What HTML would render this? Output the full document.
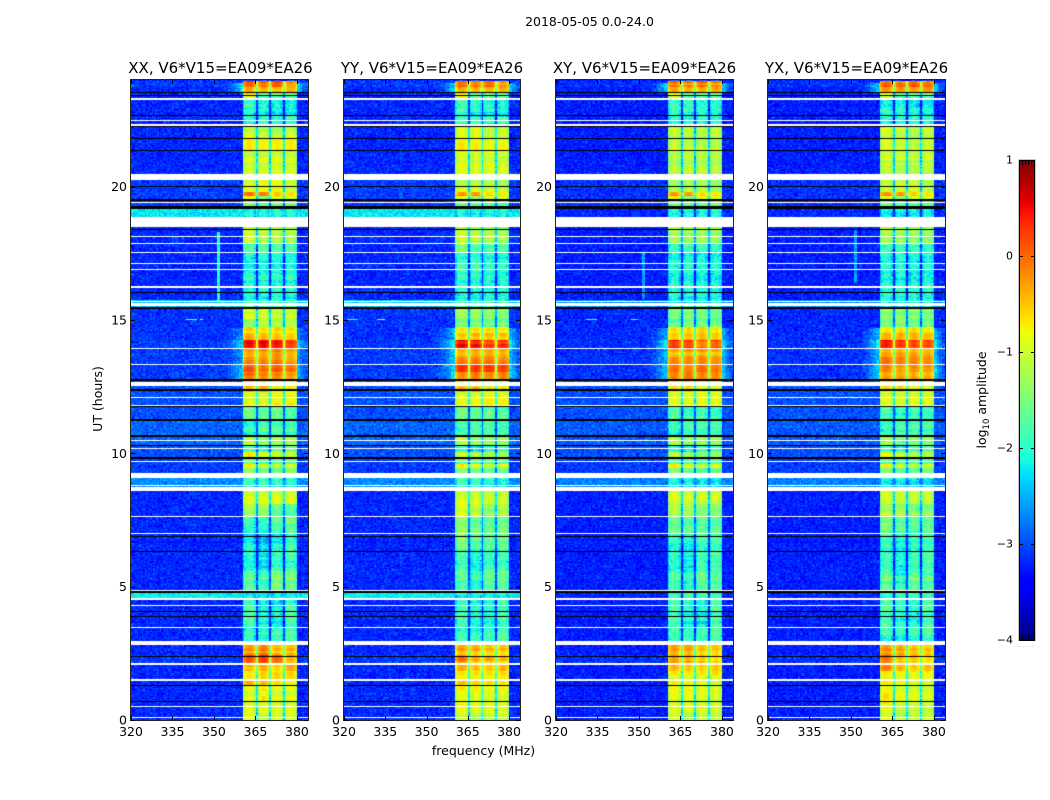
<!DOCTYPE html>
<html lang="en">
<head>
<meta charset="utf-8">
<title>2018-05-05 0.0-24.0 dynamic spectra</title>
<style>
html,body{margin:0;padding:0;background:#fff;width:1050px;height:800px;overflow:hidden}
#figure{position:relative;width:1050px;height:800px;background:#fff;font-family:"DejaVu Sans","Liberation Sans",sans-serif}
canvas{position:absolute;display:block}
svg{position:absolute;left:0;top:0}
text{font-family:"DejaVu Sans","Liberation Sans",sans-serif;fill:#000}
</style>
</head>
<body>
<div id="figure">
<canvas id="cv0" width="177" height="640" style="left:131px;top:80px"></canvas>
<canvas id="cv1" width="176" height="640" style="left:344px;top:80px"></canvas>
<canvas id="cv2" width="177" height="640" style="left:556px;top:80px"></canvas>
<canvas id="cv3" width="177" height="640" style="left:768px;top:80px"></canvas>
<canvas id="cbar" width="15" height="480" style="left:1019px;top:160px"></canvas>
<svg id="overlay" width="1050" height="800" viewBox="0 0 1050 800">
<text x="589.5" y="26" font-size="12.5" text-anchor="middle">2018-05-05 0.0-24.0</text>
<text x="483.5" y="755" font-size="12.5" text-anchor="middle">frequency (MHz)</text>
<text transform="translate(102,399) rotate(-90)" font-size="12.5" text-anchor="middle">UT (hours)</text>
<text transform="translate(986,400) rotate(-90)" font-size="12.5" text-anchor="middle">log<tspan font-size="8.5" dy="3">10</tspan><tspan dy="-3"> amplitude</tspan></text>
<text x="1026" y="647" font-size="5" style="fill:#777" letter-spacing="1.2" text-anchor="middle">......</text>
</svg>
</div>
<script>
// Time bands (UT hours); each panel's table holds one row per band:
// [background, sub-band 1, sub-band 2, sub-band 3, sub-band 4] in log10 amplitude.
const timeEdges = [0,.3,.7,1.3,1.55,1.85,2.1,2.45,2.8,3.5,4.5,4.8,5.6,6.4,7,7.6,8.1,8.6,9.25,9.45,9.6,9.85,10.05,10.3,10.65,11.25,11.75,12.3,12.75,13.05,13.35,13.6,13.95,14.25,14.5,14.75,15.05,15.45,15.75,16.6,17.5,17.9,18.5,19.2,19.45,19.65,19.8,20.46,21.3,21.75,22.25,22.7,23.3,23.55,23.75,23.93,24];

const levelsXX = [
[-3.2,-1,-1.2,-1.1,-1.1],[-3.2,-1,-.95,-1.05,-1.05],[-3.2,-1,-.85,-1,-1],[-3.2,-.5,-.55,-.75,-.9],[-3.2,-.85,-.7,-.75,-.75],
[-3.2,-.45,-.35,-.6,-.35],[-3.1,.05,.2,-.05,-.45],[-3.2,-.3,-.15,-.5,-.5],[-3.2,-2.05,-2.05,-1.95,-1.85],[-3.2,-1.8,-2.1,-2.2,-1.85],
[-2.2,-2.2,-2.2,-2.2,-2.2],[-3.2,-1.8,-2,-1.6,-1.7],[-3.2,-2.1,-2.3,-2,-1.9],[-3.2,-2.2,-2.4,-2.2,-2],[-3.2,-2,-2,-1.8,-1.7],
[-3.2,-1.3,-1.35,-1.7,-1.8],[-3.2,-.95,-.95,-.95,-.95],[-2.7,-2,-2,-2.1,-2.2],[-3.1,-1.4,-1.6,-1.7,-1.5],[-3.1,-.8,-1,-1.2,-1],
[-3.1,-1.7,-1.8,-1.8,-1.8],[-3,-.9,-1.1,-1.2,-1.2],[-3,-1.9,-2.1,-1.8,-1.7],[-2.9,-1.2,-1.5,-1.4,-1.4],[-2.9,-2,-1.8,-1.85,-1.85],
[-3,-1.7,-1.8,-1.7,-1.9],[-3,-.9,-.95,-.8,-.8],[-3,-.5,-.4,-.8,-.8],[-3.1,-.1,-.2,-.2,-.35],[-3.1,.1,-.05,.05,-.1],
[-3.1,-.15,-.15,-.1,-.3],[-3.1,-.35,-.3,-.2,-.4],[-3.1,.4,.45,.35,.1],[-3.15,-.3,-.35,-.45,-.5],[-3.15,-.6,-.65,-.6,-.7],
[-3.15,-1.45,-1.15,-1.25,-1.2],[-3.15,-1,-1.05,-1.15,-1.1],[-2.4,-2,-2,-2,-2],[-3.2,-2.1,-2.1,-2.1,-2.1],[-3.2,-2.1,-2,-2.1,-2.1],
[-3.2,-1.9,-1.8,-1.9,-1.9],[-3.2,-1.05,-1.2,-1.2,-1.25],[-2.25,-2.2,-2.2,-2.15,-2.2],[-3.1,-1.6,-1.7,-1.7,-1.7],[-3.1,-.8,-1.6,-.8,-.9],
[-3.1,-.1,-.1,-.6,-.7],[-3.1,-1.1,-1,-1,-1.2],[-3.2,-1.1,-1.05,-1.05,-1.1],[-3.2,-.8,-.85,-.85,-.85],[-3.2,-1.05,-1.15,-1.25,-1.15],
[-3.2,-2.1,-2,-2.1,-2],[-3.2,-2,-2.1,-2.2,-2.2],[-3.2,-.85,-1.8,-1.8,-1.8],[-3.2,-.3,-.35,-.4,-.35],[-3.1,.05,-.05,.1,-.3],[-3.2,-3.1,-3.1,-3.1,-3.1]];

const levelsYY = [
[-3.2,-1.05,-1.2,-1.1,-1.1],[-3.2,-.95,-1,-1.05,-1.1],[-3.2,-.9,-.95,-1,-1],[-3.2,-.65,-.75,-.85,-.9],[-3.2,-.85,-.85,-.85,-.8],
[-3.2,-.5,-.6,-.65,-.55],[-3.1,-.2,-.5,-.5,-.6],[-3.2,-.45,-.5,-.6,-.6],[-3.2,-2,-2.05,-2,-1.9],[-3.2,-1.9,-2.1,-2.1,-1.9],
[-2.2,-2.2,-2.2,-2.2,-2.2],[-3.2,-1.75,-1.95,-1.7,-1.7],[-3.2,-1.85,-2.1,-1.95,-1.85],[-3.2,-1.6,-1.85,-1.8,-1.7],[-3.2,-1.4,-1.6,-1.7,-1.6],
[-3.2,-1,-1.2,-1.5,-1.3],[-3.2,-.95,-.95,-1,-1],[-2.7,-2,-2,-2.1,-2.2],[-3.1,-1.4,-1.6,-1.7,-1.6],[-3.1,-.85,-1,-1.2,-1],
[-3.1,-1.7,-1.8,-1.8,-1.8],[-3,-.95,-1.1,-1.2,-1.2],[-3,-1.9,-2.1,-1.9,-1.8],[-2.9,-1.25,-1.5,-1.5,-1.5],[-2.9,-1.9,-1.8,-1.85,-1.9],
[-3,-1.7,-1.8,-1.8,-1.9],[-3,-.95,-.95,-.85,-.9],[-3,-.55,-.5,-.85,-.85],[-3.1,-.3,-.2,-.3,-.25],[-3.1,.15,.1,.1,.05],
[-3.1,-.1,-.05,-.1,-.15],[-3.1,-.45,-.35,-.35,-.4],[-3.1,.45,.4,.15,.25],[-3.15,-.6,-.5,-.55,-.55],[-3.15,-.75,-.7,-.7,-.8],
[-3.15,-1.6,-1.55,-1.65,-1.65],[-3.15,-1.25,-1.25,-1.35,-1.45],[-2.4,-2,-2,-2,-2],[-3.2,-2.05,-2.1,-2.1,-2.1],[-3.2,-2,-2,-2.1,-2.1],
[-3.2,-1.5,-1.8,-1.8,-1.8],[-3.2,-1.05,-1.2,-1.25,-1.3],[-2.25,-2.2,-2.2,-2.15,-2.2],[-3.1,-1.6,-1.7,-1.7,-1.7],[-3.1,-.9,-1.4,-1,-1],
[-3.1,-.3,-.3,-.7,-.8],[-3.1,-1.1,-1.05,-1.1,-1.2],[-3.2,-1,-1.05,-1.05,-1.1],[-3.2,-.85,-.9,-1.05,-.95],[-3.2,-1.05,-1,-1.25,-1.15],
[-3.2,-2,-2,-2.1,-2],[-3.2,-1.95,-2.1,-2.15,-2.2],[-3.2,-.85,-1.8,-1.8,-1.8],[-3.2,-.35,-.35,-.4,-.35],[-3.1,-.05,-.15,-.05,-.3],[-3.2,-3.1,-3.1,-3.1,-3.1]];

const levelsXY = [
[-3.25,-1,-1.2,-1.1,-1.1],[-3.25,-1,-1,-1.05,-1.1],[-3.25,-.95,-.95,-1,-1.05],[-3.25,-.65,-.7,-.8,-.95],[-3.25,-.9,-.9,-.9,-.85],
[-3.25,-.6,-.65,-.75,-.7],[-3.15,-.35,-.4,-.6,-.7],[-3.25,-.5,-.5,-.7,-.7],[-3.25,-2,-2.05,-2,-1.9],[-3.25,-1.9,-2.1,-2.2,-1.9],
[-3.2,-2.05,-2.05,-2.05,-2.05],[-3.25,-1.8,-2,-1.7,-1.75],[-3.25,-2.05,-2.25,-1.95,-1.9],[-3.25,-2,-2.1,-1.9,-1.9],[-3.25,-1.6,-1.65,-1.7,-1.7],
[-3.25,-1.2,-1.3,-1.5,-1.5],[-3.25,-1.1,-1.1,-1.15,-1.15],[-2.75,-2.1,-2.1,-2.2,-2.25],[-3.1,-1.5,-1.65,-1.7,-1.6],[-3.1,-.85,-1.1,-1.2,-1.1],
[-3.1,-1.75,-1.8,-1.8,-1.8],[-3,-1,-1.2,-1.3,-1.25],[-3,-1.9,-2.1,-1.9,-1.8],[-2.95,-1.3,-1.55,-1.5,-1.45],[-2.95,-2,-1.9,-1.9,-1.9],
[-3,-1.7,-1.9,-1.8,-1.9],[-3,-1.05,-1.05,-1,-1.05],[-3,-.7,-.6,-.95,-1],[-3.15,-.35,-.25,-.35,-.4],[-3.15,-.15,-.25,-.1,-.2],
[-3.15,-.3,-.25,-.3,-.35],[-3.15,-.5,-.4,-.4,-.5],[-3.15,.25,.2,-.1,.05],[-3.2,-.65,-.55,-.55,-.65],[-3.2,-.8,-.75,-.7,-.85],
[-3.2,-1.75,-1.65,-1.7,-1.7],[-3.2,-1.5,-1.45,-1.5,-1.55],[-2.7,-2.1,-2.1,-2.1,-2.1],[-3.25,-2.1,-2.15,-2.15,-2.15],[-3.25,-2.1,-2.05,-2.15,-2.15],
[-3.25,-1.95,-1.9,-1.95,-2],[-3.25,-1.3,-1.35,-1.35,-1.4],[-3.2,-2.1,-2.1,-2.1,-2.1],[-3.15,-1.6,-1.7,-1.7,-1.7],[-3.15,-.9,-1.5,-1,-1],
[-3.15,-.35,-.35,-.7,-.8],[-3.15,-1.2,-1.15,-1.15,-1.3],[-3.25,-1.25,-1.2,-1.25,-1.25],[-3.25,-1,-1.05,-1.1,-1.1],[-3.25,-1.2,-1.25,-1.35,-1.25],
[-3.25,-2.1,-2.05,-2.1,-2.05],[-3.25,-2.05,-2.1,-2.2,-2.2],[-3.25,-1,-1.8,-1.8,-1.8],[-3.25,-.45,-.45,-.5,-.45],[-3.15,-.15,-.2,-.1,-.3],[-3.25,-3.1,-3.1,-3.1,-3.1]];

const levelsYX = [
[-3.25,-1,-1.2,-1.15,-1.1],[-3.25,-.85,-1,-1.05,-1.1],[-3.25,-.8,-.95,-1,-1.05],[-3.25,-.6,-.75,-.85,-.9],[-3.25,-.75,-.85,-.9,-.85],
[-3.25,-.3,-.55,-.7,-.65],[-3.15,-.1,-.5,-.55,-.7],[-3.25,-.35,-.45,-.6,-.65],[-3.25,-2,-2.05,-2,-1.9],[-3.25,-1.9,-2.1,-2.2,-1.95],
[-3.2,-2.05,-2.05,-2.05,-2.05],[-3.25,-1.75,-2,-1.75,-1.8],[-3.25,-2,-2.25,-2,-1.95],[-3.25,-1.9,-2.1,-1.95,-1.9],[-3.25,-1.55,-1.7,-1.75,-1.7],
[-3.25,-1.2,-1.3,-1.5,-1.5],[-3.25,-1.05,-1.1,-1.15,-1.15],[-2.75,-2.1,-2.1,-2.2,-2.25],[-3.1,-1.5,-1.65,-1.7,-1.6],[-3.1,-.85,-1.1,-1.2,-1.1],
[-3.1,-1.75,-1.8,-1.8,-1.8],[-3,-1,-1.2,-1.3,-1.25],[-3,-1.9,-2.1,-1.9,-1.8],[-2.95,-1.3,-1.55,-1.5,-1.45],[-2.95,-2,-1.9,-1.9,-1.9],
[-3,-1.7,-1.9,-1.8,-1.9],[-3,-1,-1.05,-1,-1.05],[-3,-.7,-.65,-.95,-1],[-3.15,-.3,-.3,-.35,-.4],[-3.15,-.05,-.2,-.15,-.2],
[-3.15,-.2,-.25,-.3,-.35],[-3.15,-.45,-.4,-.45,-.5],[-3.15,.35,.2,.1,.05],[-3.2,-.6,-.55,-.6,-.65],[-3.2,-.8,-.75,-.75,-.85],
[-3.2,-1.7,-1.65,-1.7,-1.7],[-3.2,-1.45,-1.45,-1.5,-1.55],[-2.7,-2.1,-2.1,-2.1,-2.1],[-3.25,-2.1,-2.15,-2.15,-2.15],[-3.25,-2.1,-2.05,-2.15,-2.15],
[-3.25,-1.95,-1.9,-1.95,-2],[-3.25,-1.2,-1.25,-1.3,-1.35],[-3.2,-2.1,-2.1,-2.1,-2.1],[-3.15,-1.6,-1.7,-1.7,-1.7],[-3.15,-.9,-1.5,-1,-1],
[-3.15,-.25,-.3,-.6,-.75],[-3.15,-1.2,-1.15,-1.15,-1.3],[-3.25,-1.1,-1.15,-1.2,-1.15],[-3.25,-.85,-.95,-1.05,-1],[-3.25,-1.1,-1.15,-1.3,-1.2],
[-3.25,-2.1,-2.05,-2.1,-2.05],[-3.25,-2.05,-2.1,-2.2,-2.2],[-3.25,-1,-1.8,-1.8,-1.8],[-3.25,-.4,-.4,-.45,-.4],[-3.15,-.1,-.15,-.05,-.2],[-3.25,-3.1,-3.1,-3.1,-3.1]];

// Sub-band boundaries in MHz: start/end pairs of the four passbands.
const subbandEdges = [[360.5,365.1],[365.8,370],[370.6,375],[375.6,380]];
const passbandShape = [-.3,-.05,.05,.1,.12,.1,.05,-.05,-.25];

// Emission beside the passbands: [start hour, end hour, peak log10 amplitude]
const shouldersXX = [[12.8,13.3,-2.35],[13.35,13.9,-2.6],[13.95,14.25,-2.2],[14.25,14.7,-2.7],[23.55,23.9,-2.2]];
const shouldersYY = [[12.8,13.3,-2.2],[13.35,13.9,-2.3],[13.95,14.25,-1.95],[14.25,14.7,-2.35],[23.55,23.9,-2.2]];
const shouldersXY = [[12.8,13.3,-2.3],[13.35,13.9,-2.35],[13.95,14.25,-2.05],[14.25,14.7,-2.45],[23.55,23.9,-2.3]];
const shouldersYX = [[12.8,13.3,-2.2],[13.35,13.9,-2.3],[13.95,14.25,-1.95],[14.25,14.7,-2.35],[23.55,23.9,-2.2]];
const shoulderTaperLow = [.02,.05,.1,.2,.3,.45,.6,.8,1];
const shoulderTaperHigh = [.85,.55,.35,.2];

// Narrow interference: vertical [MHz, start hour, end hour, level]; horizontal [start MHz, end MHz, hour, level]
const rfiVerticalXX = [[351,15.7,18.3,-2]];
const rfiVerticalYY = [];
const rfiVerticalXY = [[351,15.8,17.5,-2.6]];
const rfiVerticalYX = [[351,16.4,18.4,-2.6]];
const rfiHorizontalXX = [[325,354,13.92,-2.5],[340,344,15.02,-1.6],[345,346,15.02,-1.6]];
const rfiHorizontalYY = [[321,325,15.02,-1.8],[332,335,15.02,-1.5]];
const rfiHorizontalXY = [[331,335,15.02,-1.8],[347,350,15.02,-2]];
const rfiHorizontalYX = [];

// Flagged integrations (UT hours): blank rows and black rows.
const whiteGaps = [[.075,.13],[.47,.53],[1.48,1.52],[2.08,2.12],[2.8,2.95],[3.45,3.5],[4.29,4.33],[4.5,4.57],[4.83,4.87],[6.99,7.03],[7.6,7.65],[8.58,8.72],[8.77,8.82],[9.06,9.27],[9.66,9.7],[10.16,10.2],[10.45,10.49],[11.77,11.83],[12.07,12.11],[12.53,12.62],[12.64,12.68],[13.3,13.36],[13.92,13.96],[15.52,15.63],[15.68,15.72],[16.2,16.26],[16.86,16.9],[17.1,17.14],[17.52,17.56],[17.84,17.88],[18.1,18.14],[18.5,18.87],[19.37,19.42],[20.25,20.46],[22.27,22.35],[22.45,22.5],[23.25,23.33]];
const blackLines = [[.67,.71],[1.27,1.31],[2.36,2.4],[3.86,3.9],[4.06,4.1],[4.78,4.84],[6.31,6.35],[6.85,6.89],[9.77,9.86],[10.28,10.32],[10.62,10.7],[11.22,11.3],[11.74,11.78],[12.34,12.42],[12.71,12.77],[15.42,15.5],[16,16.04],[18.39,18.43],[19.18,19.26],[19.48,19.52],[19.99,20.03],[21.32,21.36],[21.77,21.81],[22.22,22.26],[22.65,22.69],[23.41,23.45],[23.51,23.55]];

// Fine-grain receiver noise read as a repeating texture, in units of the local noise amplitude.
const noiseTexture = [.31,-.72,.14,.88,-.43,-.05,.62,-.91,.27,.49,-.18,-.64,.95,.07,-.36,.53,-.82,.21,-.11,.76,-.55,.39,-.97,.12,.68,-.29,.84,-.47,.03,-.73,.58,.18,-.34,.92,-.6,.25,-.09,.71,-.86,.44,.01,-.52,.8,-.23,.36,-.78,.64,.1,-.41,.97,-.15,-.68,.29,.51,-.89,.16,.74,-.32,-.02,.6,-.75,.41,.86,-.26,-.57,.22,.69,-.94,.33,-.12,.47,-.66,.78,.05,-.38,.9,-.5,.19,-.83,.55,-.07,.35,-.7,.99,-.2,.43,-.61,.13,.66,-.99,.24,.82,-.45,-.16,.57,-.77,.38,.08,-.3,.73,-.54];

// Axis ticks
const xTickValues = [320,335,350,365,380];
const yTickValues = [0,5,10,15,20];
const colorbarTicks = [1,0,-1,-2,-3,-4];
const colorbarTickLabels = ['1','0','\u22121','\u22122','\u22123','\u22124'];
const colorbarEdgeTicks = [1,2,3,4];

const panelTitles = ['XX, V6*V15=EA09*EA26','YY, V6*V15=EA09*EA26','XY, V6*V15=EA09*EA26','YX, V6*V15=EA09*EA26'];
const panelKeys = ['xx','yy','xy','yx'];
const panelLeft = [131,344,556,768];
const panelWidth = [177,176,177,177];
const panelLevels = [levelsXX,levelsYY,levelsXY,levelsYX];
const panelShoulders = [shouldersXX,shouldersYY,shouldersXY,shouldersYX];
const panelRfiV = [rfiVerticalXX,rfiVerticalYY,rfiVerticalXY,rfiVerticalYX];
const panelRfiH = [rfiHorizontalXX,rfiHorizontalYY,rfiHorizontalXY,rfiHorizontalYX];

const F_MIN = 320, F_MAX = 384, H_MAX = 24, PLOT_TOP = 80, PLOT_H = 640, CHANNEL = .5, INTEGRATION = .05;
const SVGNS = 'http://www.w3.org/2000/svg';
const overlay = document.getElementById('overlay');

function segInterp(points, t){
  for(let i=1;i<points.length;i++){
    if(t<=points[i][0]){
      const a=points[i-1],b=points[i];
      return a[1]+(b[1]-a[1])*(t-a[0])/(b[0]-a[0]);
    }
  }
  return points[points.length-1][1];
}
const jetR=[[0,0],[.35,0],[.66,1],[.89,1],[1,.5]];
const jetG=[[0,0],[.125,0],[.375,1],[.64,1],[.91,0],[1,0]];
const jetB=[[0,.5],[.11,1],[.34,1],[.65,0],[1,0]];
function colorFor(logAmp){
  const t=Math.max(0,Math.min(1,(logAmp+4)/5));
  return 'rgb('+Math.round(255*segInterp(jetR,t))+','+Math.round(255*segInterp(jetG,t))+','+Math.round(255*segInterp(jetB,t))+')';
}
function xScale(f,p){ return (f-F_MIN)*panelWidth[p]/(F_MAX-F_MIN); }
function yScale(h){ return PLOT_H-h*PLOT_H/H_MAX; }

function buildCells(){
  const cells=[];
  const low=subbandEdges[0][0];
  for(let f=F_MIN;f<low;f+=CHANNEL) cells.push({a:f,b:f+CHANNEL,zone:-1});
  subbandEdges.forEach(function(e,i){
    const n=Math.round((e[1]-e[0])/CHANNEL);
    const w=(e[1]-e[0])/n;
    for(let k=0;k<n;k++) cells.push({a:e[0]+k*w,b:e[0]+(k+1)*w,zone:i,shape:passbandShape[Math.round(k*(passbandShape.length-1)/(n-1))]});
    if(i<subbandEdges.length-1) cells.push({a:e[1],b:subbandEdges[i+1][0],zone:-2});
  });
  for(let f=subbandEdges[3][1];f<F_MAX;f+=CHANNEL) cells.push({a:f,b:f+CHANNEL,zone:-1});
  return cells;
}
const cells=buildCells();

function cellLevel(row,cell,p,hour){
  const bg=row[0];
  const mid=(cell.a+cell.b)/2;
  if(cell.zone>=0) return row[cell.zone+1]+cell.shape;
  const sub=(row[1]+row[2]+row[3]+row[4])/4;
  if(cell.zone===-2) return Math.max(bg,sub-1.15);
  let v=bg;
  panelShoulders[p].forEach(function(s){
    if(hour>=s[0]&&hour<s[1]){
      let w=0;
      if(mid<360.5){const i=Math.floor(mid)-352; if(i>=0) w=shoulderTaperLow[Math.min(i,shoulderTaperLow.length-1)];}
      else {const i=Math.floor(mid)-380; w=shoulderTaperHigh[Math.min(i,shoulderTaperHigh.length-1)];}
      v=Math.max(v,bg+(s[2]-bg)*w);
    }
  });
  panelRfiV[p].forEach(function(r){ if(mid>=r[0]&&mid<r[0]+1&&hour>=r[1]&&hour<r[2]) v=Math.max(v,r[3]); });
  panelRfiH[p].forEach(function(r){ if(mid>=r[0]&&mid<r[1]&&Math.abs(hour+INTEGRATION/2-r[2])<.04) v=Math.max(v,r[3]); });
  return v;
}
function noiseAmp(level,zone){
  if(zone===-1) return .3;
  if(level<-1.4) return .32;
  if(level<-.9) return .14;
  return .07;
}
function drawPanel(p){
  const ctx=document.getElementById('cv'+p).getContext('2d');
  const levels=panelLevels[p];
  const tex=noiseTexture, len=tex.length;
  const nRows=Math.round(H_MAX/INTEGRATION);
  for(let r=0;r<nRows;r++){
    const hour=r*INTEGRATION;
    let seg=0;
    while(seg<levels.length-1&&hour>=timeEdges[seg+1]-1e-6) seg++;
    const row=levels[seg];
    const y2=Math.round(yScale(hour)), y1=Math.round(yScale(hour+INTEGRATION));
    const rowStripe=tex[(Math.floor(r/2)*13+p*7)%len]*.16;
    cells.forEach(function(c,ci){
      const base=cellLevel(row,c,p,hour);
      const n1=tex[(r*r*7+ci*ci*13+r*17+ci*29+p*23)%len];
      const n2=tex[(r*ci*3+r*41+ci*5+p*11)%len];
      let v=base+(n1+n2)*.6*noiseAmp(base,c.zone);
      if(c.zone>=0) v+=rowStripe;
      ctx.fillStyle=colorFor(v);
      const x1=Math.round(xScale(c.a,p)),x2=Math.round(xScale(c.b,p));
      ctx.fillRect(x1,y1,Math.max(1,x2-x1),Math.max(1,y2-y1));
    });
  }
  ctx.fillStyle='#fff';
  whiteGaps.forEach(function(g){
    const a=Math.round(yScale(g[1])),b=Math.round(yScale(g[0]));
    ctx.fillRect(0,a,panelWidth[p],Math.max(1,b-a));
  });
  ctx.fillStyle='#000';
  blackLines.forEach(function(g){
    const a=Math.round(yScale(g[1])),b=Math.round(yScale(g[0]));
    ctx.fillRect(0,a,panelWidth[p],Math.max(1,b-a));
  });
}

function svgLine(x1,y1,x2,y2,stroke){
  const el=document.createElementNS(SVGNS,'line');
  el.setAttribute('x1',x1);el.setAttribute('y1',y1);el.setAttribute('x2',x2);el.setAttribute('y2',y2);
  el.setAttribute('stroke',stroke||'#000');el.setAttribute('stroke-width','1');
  overlay.appendChild(el);
  return el;
}
function svgText(x,y,str,size,anchor){
  const el=document.createElementNS(SVGNS,'text');
  el.setAttribute('x',x);el.setAttribute('y',y);el.setAttribute('font-size',size);el.setAttribute('text-anchor',anchor);
  el.textContent=str;
  overlay.appendChild(el);
  return el;
}

panelKeys.forEach(function(key,p){
  drawPanel(p);
  const L=panelLeft[p], W=panelWidth[p], T=PLOT_TOP, B=PLOT_TOP+PLOT_H;

  const frame=document.createElementNS(SVGNS,'rect');
  frame.setAttribute('x',L-.5);frame.setAttribute('y',T-.5);frame.setAttribute('width',W+1);frame.setAttribute('height',PLOT_H+1);
  frame.setAttribute('fill','none');frame.setAttribute('stroke','#222');frame.setAttribute('stroke-width','1');
  
  
  overlay.appendChild(frame);

  const title=svgText(L+W/2+(p===0?1:0),73,panelTitles[p],15,'middle');
  
  

  xTickValues.forEach(function(v){
    const x=Math.round(L+xScale(v,p))+.5;
    const t1=svgLine(x,B,x,B-4);
    
    
    const t2=svgLine(x,T,x,T+4);
    
    
    const lab=svgText(L+xScale(v,p),736,String(v),12.5,'middle');
    
    
  });
  yTickValues.forEach(function(v){
    const y=Math.round(T+yScale(v))+.5;
    const t1=svgLine(L,y,L+4,y);
    
    
    const t2=svgLine(L+W,y,L+W-4,y);
    
    
    const lab=svgText(L-4,T+yScale(v)+4.5,String(v),12.5,'end');
    
    
  });
});

// Colour bar
(function(){
  const ctx=document.getElementById('cbar').getContext('2d');
  const cbHeight=480, cbMin=-4, cbMax=1;
  for(let y=0;y<cbHeight;y++){
    ctx.fillStyle=colorFor(cbMax-(y+.5)/cbHeight*(cbMax-cbMin));
    ctx.fillRect(0,y,15,1);
  }
  const L=1019,R=1034,T=160;
  function cbY(v){ return T+(cbMax-v)*cbHeight/(cbMax-cbMin); }
  const halo=document.createElementNS(SVGNS,'rect');
  halo.setAttribute('x',L-.5);halo.setAttribute('y',T-.5);halo.setAttribute('width',R-L+2);halo.setAttribute('height',cbHeight+1);
  halo.setAttribute('fill','none');halo.setAttribute('stroke','#c8c8c8');
  
  
  overlay.appendChild(halo);
  const frame=document.createElementNS(SVGNS,'rect');
  frame.setAttribute('x',L+.5);frame.setAttribute('y',T+.5);frame.setAttribute('width',R-L);frame.setAttribute('height',cbHeight);
  frame.setAttribute('fill','none');frame.setAttribute('stroke','#000');
  
  
  overlay.appendChild(frame);
  colorbarTicks.forEach(function(v,i){
    const y=Math.round(cbY(v))+.5;
    if(v!==cbMax&&v!==cbMin){
      const a=svgLine(L,y,L+4,y);
      
      
      const b=svgLine(R-3,y,R+1,y);
      
      
    }
    const lab=svgText(1013,cbY(v)+3.5,colorbarTickLabels[i],11,'end');
    
    
  });
  colorbarEdgeTicks.forEach(function(v){
    const x=L+.5+v*3;
    const a=svgLine(x,T,x,T+5);
    
    
    const b=svgLine(x,T+cbHeight,x,T+cbHeight-5);
    
    
  });
})();
</script>
</body>
</html>
